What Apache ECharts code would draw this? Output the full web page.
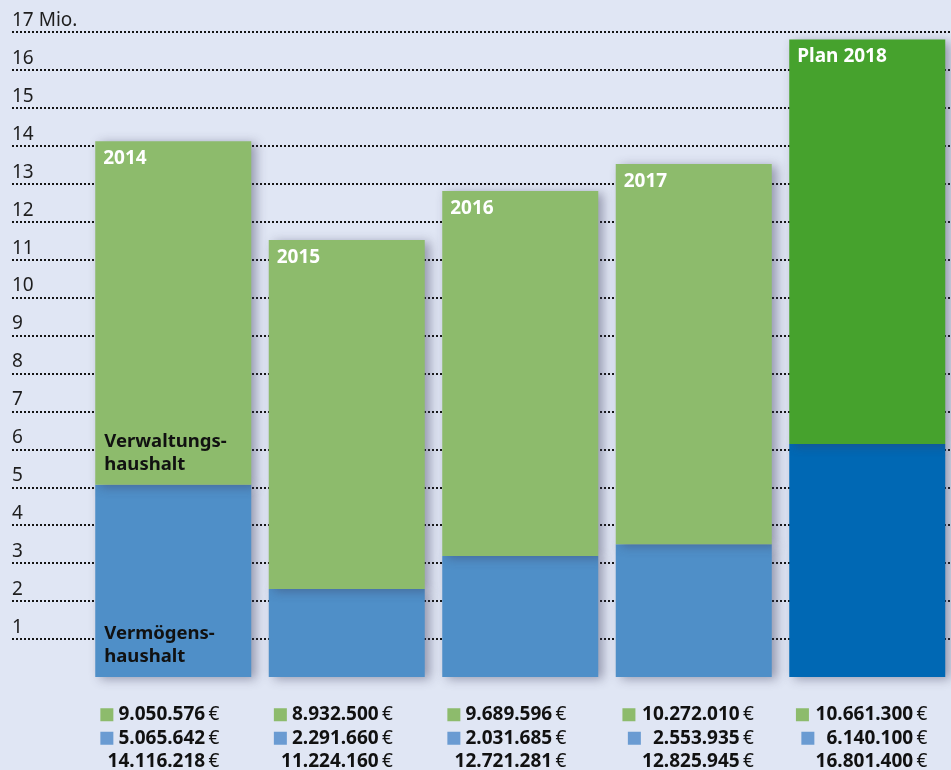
<!DOCTYPE html>
<html>
<head>
<meta charset="utf-8">
<script src="https://cdn.jsdelivr.net/npm/echarts@6/dist/echarts.min.js"></script>
<style>
  html, body { margin: 0; padding: 0; background: #e0e6f4; }
  #root { width: 951px; height: 770px; }
</style>
</head>
<body>
<div id="root"></div>
<script>
// Balkenhöhen (Mio. €)
const categories = ['2014', '2015', '2016', '2017', 'Plan 2018'];
const vermoegen = [5.07, 2.32, 3.19, 3.5, 6.14];
const verwaltung = [9.05, 9.2, 9.62, 10.02, 10.66];
// Beschriftung unter den Balken
const gruenText = ['9.050.576', '8.932.500', '9.689.596', '10.272.010', '10.661.300'];
const blauText = ['5.065.642', '2.291.660', '2.031.685', '2.553.935', '6.140.100'];
const summeText = ['14.116.218', '11.224.160', '12.721.281', '12.825.945', '16.801.400'];

const GREEN = '#8dbb6c', BLUE = '#4f8fc8';
const GREEN_PLAN = '#46a22d', BLUE_PLAN = '#0068b4';
const FONT = '"Noto Sans", sans-serif';

let root = document.getElementById('root');
let myCharts = echarts.init(root);

const shadow = {
    shadowColor: 'rgba(60,60,90,0.45)',
    shadowBlur: 10,
    shadowOffsetX: 5,
    shadowOffsetY: 2
};

// drei Zeilen unter jedem Balken: Quadrat links, Zahl rechtsbündig
function bottomLabel(value, idx) {
    let pad = gruenText[idx].length > 9 ? 'padW' : 'padN';
    return [
        '{sqG|}{num|' + gruenText[idx] + '}{eur|\u2009€}{' + pad + '|}',
        '{sqB|}{num|' + blauText[idx] + '}{eur|\u2009€}{' + pad + '|}',
        '{num|' + summeText[idx] + '}{eur|\u2009€}{' + pad + '|}'
    ].join('\n');
}

let option = {
    backgroundColor: '#e0e6f4',
    animation: false,
    grid: [
        { left: 12, right: 0, top: 32, bottom: 131, outerBoundsMode: 'none' },   // Hilfslinien 1..17
        { left: 86.5, width: 867.5, top: 32, bottom: 93, outerBoundsMode: 'none' }   // Balken
    ],
    xAxis: [
        { gridIndex: 0, type: 'value', show: false },
        {
            gridIndex: 1,
            type: 'category',
            data: categories,
            axisLine: { show: false },
            axisTick: { show: false },
            axisLabel: {
                interval: 0,
                hideOverlap: false,
                margin: 26,
                width: 156,
                align: 'center',
                formatter: bottomLabel,
                rich: {
                    sqG: { width: 13, height: 13, backgroundColor: '#8dbb6c', lineHeight: 23.5 },
                    sqB: { width: 13, height: 13, backgroundColor: '#6a9bd2', lineHeight: 23.5 },
                    num: { align: 'right', fontSize: 19, fontWeight: 'bold', color: '#111', fontFamily: FONT, lineHeight: 23.5 },
                    eur: { align: 'right', fontSize: 19, color: '#111', fontFamily: FONT, lineHeight: 23.5 },
                    padN: { align: 'right', width: 32, lineHeight: 23.5 },
                    padW: { align: 'right', width: 18, lineHeight: 23.5 }
                }
            }
        }
    ],
    yAxis: [
        {
            gridIndex: 0,
            type: 'value',
            min: 1,
            max: 17,
            interval: 1,
            axisLine: { show: false },
            axisTick: { show: false },
            axisLabel: {
                inside: true,
                margin: 0,
                verticalAlign: 'bottom',
                padding: [0, 0, 2, 0],
                fontSize: 19,
                color: '#1e1e1e',
                fontFamily: FONT,
                formatter: v => v === 17 ? '17 Mio.' : String(v)
            },
            splitLine: {
                lineStyle: { color: '#151515', width: 2, type: [2, 2] }
            }
        },
        { gridIndex: 1, type: 'value', min: 0, max: 17, show: false }
    ],
    series: [
        {
            name: 'Vermögenshaushalt',
            type: 'bar',
            xAxisIndex: 1,
            yAxisIndex: 1,
            stack: 'haushalt',
            barWidth: 156,
            itemStyle: Object.assign({ color: BLUE }, shadow),
            data: vermoegen.map((v, i) => ({
                value: v,
                itemStyle: i === 4 ? { color: BLUE_PLAN } : undefined,
                label: i === 0 ? {
                    show: true,
                    position: 'insideBottomLeft',
                    distance: 9,
                    formatter: 'Vermögens-\nhaushalt',
                    color: '#111',
                    fontSize: 18.5,
                    fontWeight: 'bold',
                    lineHeight: 23,
                    fontFamily: FONT
                } : undefined
            })),
            markPoint: {
                symbolSize: 0,
                label: {
                    show: true,
                    position: 'top',
                    align: 'left',
                    distance: 8,
                    offset: [-69, 0],
                    formatter: 'Verwaltungs-\nhaushalt',
                    color: '#111',
                    fontSize: 18.5,
                    fontWeight: 'bold',
                    lineHeight: 23,
                    fontFamily: FONT
                },
                data: [{ coord: [categories[0], vermoegen[0]] }]
            }
        },
        {
            name: 'Verwaltungshaushalt',
            type: 'bar',
            xAxisIndex: 1,
            yAxisIndex: 1,
            stack: 'haushalt',
            barWidth: 156,
            itemStyle: Object.assign({ color: GREEN }, shadow),
            label: {
                show: true,
                position: 'insideTopLeft',
                distance: 8,
                formatter: '{b}',
                color: '#fff',
                fontSize: 19,
                fontWeight: 'bold',
                fontFamily: FONT
            },
            data: verwaltung.map((v, i) => ({
                value: v,
                itemStyle: i === 4 ? { color: GREEN_PLAN } : undefined
            }))
        }
    ]
};
myCharts.setOption(option);
</script>
</body>
</html>
